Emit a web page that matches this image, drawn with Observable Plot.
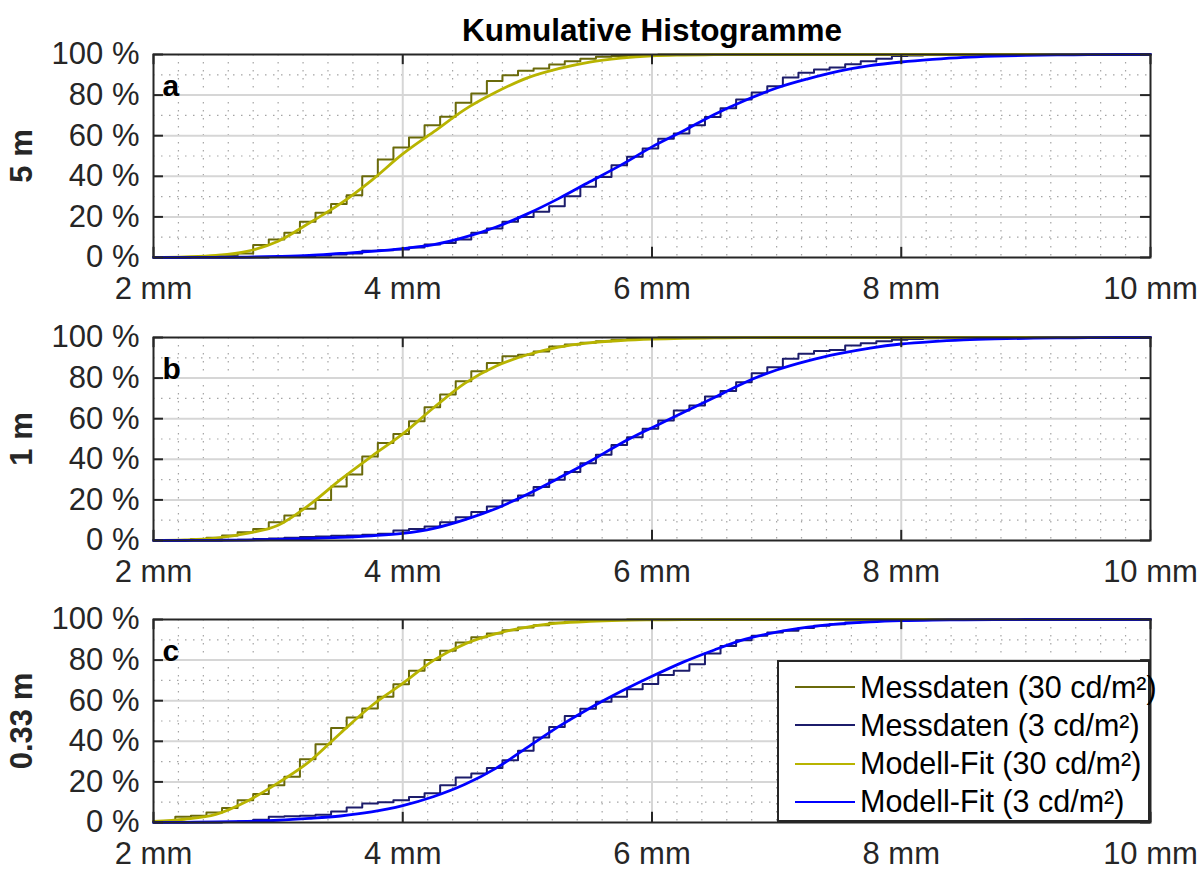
<!DOCTYPE html>
<html>
<head>
<meta charset="utf-8">
<script src="https://cdn.jsdelivr.net/npm/d3@7"></script>
<script src="https://cdn.jsdelivr.net/npm/@observablehq/plot@0.6"></script>
<style>
  html, body { margin: 0; padding: 0; background: #fff; }
  #chart { position: relative; width: 1200px; height: 870px; font-family: "Liberation Sans", Arial, Helvetica, sans-serif; color: #262626; }
  #chart svg { position: absolute; left: 0; }
  #legend { position: absolute; left: 777px; top: 660px; width: 369px; height: 158px; border: 2px solid #262626; background: #fff; }
  .row { position: absolute; left: 0; height: 38px; display: flex; align-items: center; font-size: 30.5px; color: #000; white-space: nowrap; }
  .swatch { display: inline-block; width: 60px; margin-left: 16px; margin-right: 5px; }
</style>
</head>
<body>
<div id="chart"></div>
<script>
// ---- Data ----
const panelLetters = ["a", "b", "c"];
const panelLabels = ["5 m", "1 m", "0.33 m"];
const seriesNames = ["Messdaten (30 cd/m²)", "Messdaten (3 cd/m²)", "Modell-Fit (30 cd/m²)", "Modell-Fit (3 cd/m²)"];
const xTicks = [2, 4, 6, 8, 10];
const yTicks = [0, 20, 40, 60, 80, 100];

// Bin edges of the measured cumulative histograms (mm)
const edges = [
  2.05, 2.175, 2.3, 2.425, 2.55, 2.675, 2.8, 2.925,
  3.05, 3.175, 3.3, 3.425, 3.55, 3.675, 3.8, 3.925,
  4.05, 4.175, 4.3, 4.425, 4.55, 4.675, 4.8, 4.925,
  5.05, 5.175, 5.3, 5.425, 5.55, 5.675, 5.8, 5.925,
  6.05, 6.175, 6.3, 6.425, 6.55, 6.675, 6.8, 6.925,
  7.05, 7.175, 7.3, 7.425, 7.55, 7.675, 7.8, 7.925,
  8.05, 8.175, 8.3, 8.425, 8.55, 8.675, 8.8, 8.925,
  9.05, 9.175, 9.3, 9.425, 9.55, 9.675, 9.8, 9.925
];

// Messdaten (%), panel a / b / c
const messA30 = [
  0, 0, 0.3, 0.6, 1, 2, 6.1, 8.9,
  12.2, 17.6, 22, 26.3, 30.7, 40, 48.3, 54.2,
  59.1, 65.2, 69.3, 76.2, 80.8, 87, 89.8, 92,
  93.1, 95.1, 96.7, 97.9, 98.9, 99.3, 99.6, 99.8,
  100, 100, 100, 100, 100, 100, 100, 100,
  100, 100, 100, 100, 100, 100, 100, 100,
  100, 100, 100, 100, 100, 100, 100, 100,
  100, 100, 100, 100, 100, 100, 100, 100
];
const messA3 = [
  0, 0, 0, 0, 0, 0, 0, 0.2,
  0.4, 0.7, 1, 1.5, 2, 3.3, 3.6, 4,
  4.9, 6.4, 7.2, 8.9, 12.2, 14.3, 17.6, 20,
  22.5, 25.3, 30.2, 34.8, 39.7, 45.5, 49.6, 53.7,
  58.5, 61.1, 65.2, 69.2, 73.5, 77.8, 81.3, 84.4,
  88.7, 91, 92.6, 93.6, 95.2, 96.7, 97.9, 99.2,
  99.5, 99.7, 99.8, 100, 100, 100, 100, 100,
  100, 100, 100, 100, 100, 100, 100, 100
];
const messB30 = [
  0, 0.3, 0.7, 1.3, 2.5, 4.1, 5.7, 9,
  12.3, 15.6, 20, 26.6, 32.5, 41.4, 48, 52.5,
  58.8, 65.7, 71.9, 78.5, 83.4, 87.4, 90.8, 91.5,
  93.1, 95.6, 96.6, 97.4, 98.2, 98.9, 99.3, 99.6,
  100, 100, 100, 100, 100, 100, 100, 100,
  100, 100, 100, 100, 100, 100, 100, 100,
  100, 100, 100, 100, 100, 100, 100, 100,
  100, 100, 100, 100, 100, 100, 100, 100
];
const messB3 = [
  0, 0, 0, 0, 0.2, 0.4, 0.7, 1,
  1.3, 1.7, 2, 2.3, 2.5, 2.8, 3.3, 4.9,
  5.7, 6.9, 9, 11.5, 14, 16.7, 19.7, 22.2,
  26.3, 29.9, 33.7, 38.1, 42.2, 47.1, 50.9, 55,
  59.1, 64, 66.5, 70.9, 73.6, 78, 82.4, 85.4,
  89.5, 92, 93.3, 93.9, 96.1, 97.2, 98.2, 98.9,
  99.3, 99.6, 99.8, 100, 100, 100, 100, 100,
  100, 100, 100, 100, 100, 100, 100, 100
];
const messC30 = [
  0.8, 2.8, 3.3, 4.9, 7.1, 11, 14, 18.4,
  22.5, 31.2, 38.6, 46.5, 51.7, 56.2, 61.9, 68.1,
  74.7, 80, 84.6, 88.7, 91.3, 93.1, 94.7, 96,
  97.2, 98.4, 98.9, 99.3, 99.5, 99.7, 100, 100,
  100, 100, 100, 100, 100, 100, 100, 100,
  100, 100, 100, 100, 100, 100, 100, 100,
  100, 100, 100, 100, 100, 100, 100, 100,
  100, 100, 100, 100, 100, 100, 100, 100
];
const messC3 = [
  0, 0, 0, 0, 0.3, 0.5, 1.3, 2.8,
  3.1, 3.3, 3.8, 5.4, 7.4, 9.4, 10, 11,
  12.6, 14.4, 18.4, 22.2, 24.1, 26.8, 30.7, 35.3,
  41.9, 47.1, 52.5, 56, 59.5, 62, 65.7, 68.2,
  72.6, 74.7, 78, 83.3, 87, 89.8, 92, 93.6,
  94.4, 95.8, 96.9, 97.7, 98.5, 99, 99.5, 99.7,
  100, 100, 100, 100, 100, 100, 100, 100,
  100, 100, 100, 100, 100, 100, 100, 100
];

// Modell-Fit (%), sampled at fitX
const fitX = [2, 2.25, 2.5, 2.75, 3, 3.25, 3.5, 3.75, 4, 4.25, 4.5, 4.75, 5, 5.25, 5.5, 5.75,
              6, 6.25, 6.5, 6.75, 7, 7.25, 7.5, 7.75, 8, 8.25, 8.5, 8.75, 9, 9.25, 9.5, 9.75, 10];
const fitA30 = [0, 0.3, 1, 3, 8, 17, 26.5, 38, 51, 62, 73, 81.5, 88.5, 93, 96.3, 98.2,
                99.3, 99.7, 99.9, 100, 100, 100, 100, 100, 100, 100, 100, 100, 100, 100, 100, 100, 100];
const fitA3 = [0, 0, 0.1, 0.2, 0.5, 1, 2, 3, 4.4, 6.3, 10, 15, 21.5, 29, 37.3, 45.5,
               54.5, 62.3, 70.5, 77.5, 83.5, 88, 91.8, 94.5, 96.3, 97.6, 98.6, 99.2, 99.6, 99.8, 99.9, 100, 100];
const fitB30 = [0, 0.3, 1.2, 3.5, 7.5, 17.5, 30, 41.5, 52.5, 65.5, 77.5, 86, 91.5, 95.3, 97.4, 98.5,
                99.2, 99.6, 99.8, 99.9, 100, 100, 100, 100, 100, 100, 100, 100, 100, 100, 100, 100, 100];
const fitB3 = [0, 0, 0.1, 0.2, 0.5, 0.9, 1.5, 2.3, 3.5, 6, 10.3, 15.8, 22.8, 30.7, 38.9, 47.8,
               55.6, 63.1, 70.4, 78, 84, 88.5, 92, 94.8, 96.8, 98, 98.8, 99.3, 99.6, 99.8, 99.9, 100, 100];
const fitC30 = [0.5, 1.6, 4, 10.5, 19.5, 30, 44, 57.5, 68.5, 80, 88, 93, 96.3, 98.2, 99.1, 99.6,
                99.8, 99.9, 100, 100, 100, 100, 100, 100, 100, 100, 100, 100, 100, 100, 100, 100, 100];
const fitC3 = [0, 0.1, 0.3, 0.6, 1.1, 2, 3.2, 5.2, 8.3, 12.8, 18.8, 26.8, 37, 47.2, 56.3, 64.5,
               72, 79, 85, 90.3, 93.8, 96.2, 97.8, 98.8, 99.4, 99.7, 99.8, 99.9, 100, 100, 100, 100, 100];

// ---- Styles ----
const colors = ["#6a6a0a", "#1c1c6b", "#b8b400", "#0000ff"];
const widths = [2, 2, 2.8, 2.8];
const FONT = '"Liberation Sans", Arial, Helvetica, sans-serif';
const panelTops = [0, 283, 565];

const panels = [
  {mess: [messA30, messA3], fit: [fitA30, fitA3]},
  {mess: [messB30, messB3], fit: [fitB30, fitB3]},
  {mess: [messC30, messC3], fit: [fitC30, fitC3]}
];

const minorX = d3.range(2.2, 10, 0.2).filter(v => Math.abs(v / 2 - Math.round(v / 2)) > 1e-6);
const minorY = [10, 30, 50, 70, 90];
const majorX = [4, 6, 8];
const majorY = [20, 40, 60, 80];

const chart = document.getElementById("chart");

panels.forEach((p, i) => {
  const stepData = (vals) => edges.map((x, k) => ({x, y: vals[k]}));
  const fitData = (vals) => fitX.map((x, k) => ({x, y: vals[k]}));
  const marks = [
    Plot.gridX(minorX, {stroke: "#9a9a9a", strokeOpacity: 0.9, strokeWidth: 1.2, strokeDasharray: "1.5,6.5"}),
    Plot.gridY(minorY, {stroke: "#9a9a9a", strokeOpacity: 0.9, strokeWidth: 1.2, strokeDasharray: "1.5,6.5"}),
    Plot.gridX(majorX, {stroke: "#d6d6d6", strokeOpacity: 1, strokeWidth: 2}),
    Plot.gridY(majorY, {stroke: "#d6d6d6", strokeOpacity: 1, strokeWidth: 2}),
    Plot.line(stepData(p.mess[0]), {x: "x", y: "y", stroke: colors[0], strokeWidth: widths[0], curve: "step-after"}),
    Plot.line(stepData(p.mess[1]), {x: "x", y: "y", stroke: colors[1], strokeWidth: widths[1], curve: "step-after"}),
    Plot.line(fitData(p.fit[0]), {x: "x", y: "y", stroke: colors[2], strokeWidth: widths[2], curve: "monotone-x"}),
    Plot.line(fitData(p.fit[1]), {x: "x", y: "y", stroke: colors[3], strokeWidth: widths[3], curve: "monotone-x"}),
    Plot.frame({stroke: "#262626", strokeWidth: 2}),
    // inward ticks on all four sides
    Plot.ruleX(xTicks, {y1: 0, y2: 5, stroke: "#262626", strokeWidth: 2}),
    Plot.ruleX(xTicks, {y1: 95, y2: 100, stroke: "#262626", strokeWidth: 2}),
    Plot.ruleY(yTicks, {x1: 2, x2: 2.08, stroke: "#262626", strokeWidth: 2}),
    Plot.ruleY(yTicks, {x1: 9.92, x2: 10, stroke: "#262626", strokeWidth: 2}),
    Plot.axisX({ticks: xTicks, tickSize: 0, tickPadding: 19, tickFormat: d => `${d} mm`, label: null, fill: "#262626"}),
    Plot.axisY({ticks: yTicks, tickSize: 0, tickPadding: 14, tickFormat: d => `${d} %`, label: null, fill: "#262626"}),
    Plot.text([panelLetters[i]], {frameAnchor: "top-left", dx: 9, dy: 41, lineAnchor: "bottom", textAnchor: "start", fontWeight: "bold", fontSize: 30, fill: "#000"}),
    Plot.text([panelLabels[i]], {frameAnchor: "left", dx: -131, rotate: -90, textAnchor: "middle", lineAnchor: "middle", fontWeight: "bold", fontSize: 31, fill: "#262626"})
  ];
  if (i === 0) {
    marks.push(Plot.text(["Kumulative Histogramme"], {frameAnchor: "top", dy: -14, lineAnchor: "bottom", textAnchor: "middle", fontWeight: "bold", fontSize: 31.5, fill: "#000"}));
  }
  const svg = Plot.plot({
    width: 1200,
    height: 305,
    marginTop: 54,
    marginBottom: 48,
    marginLeft: 153,
    marginRight: 50,
    x: {domain: [2, 10]},
    y: {domain: [0, 100]},
    style: {fontFamily: FONT, fontSize: "31px", overflow: "visible", background: "transparent", color: "#262626"},
    marks
  });
  svg.style.top = panelTops[i] + "px";
  chart.appendChild(svg);
});

// Legend (inside panel c)
const legend = document.createElement("div");
legend.id = "legend";
seriesNames.forEach((name, j) => {
  const row = document.createElement("div");
  row.className = "row";
  row.style.top = (6 + j * 38.3) + "px";
  const sw = document.createElement("span");
  sw.className = "swatch";
  sw.style.borderTop = `${widths[j]}px solid ${colors[j]}`;
  const label = document.createElement("span");
  label.textContent = name;
  row.appendChild(sw);
  row.appendChild(label);
  legend.appendChild(row);
});
chart.appendChild(legend);
</script>
</body>
</html>
